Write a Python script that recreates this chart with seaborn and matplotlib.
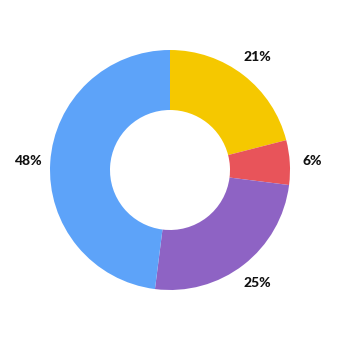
import matplotlib
matplotlib.use("Agg")
import matplotlib.pyplot as plt
import seaborn as sns

categories = ["A", "B", "C", "D"]
values = [21, 6, 25, 48]
colors = ["#F5C800", "#E8545A", "#8E63C4", "#5DA3F9"]

sns.set_theme(style="white")
plt.rcParams['font.family'] = ['Lato', 'DejaVu Sans']

fig = plt.figure(figsize=(3.4, 3.4), dpi=100)
ax = fig.add_axes([0, 0, 1, 1])
wedges, texts, autotexts = ax.pie(
    values, colors=colors, startangle=90, counterclock=False,
    radius=1.0, wedgeprops=dict(width=0.5, linewidth=0),
    autopct=lambda p: f"{p:.0f}%", pctdistance=1.19,
)
for t in autotexts:
    t.set_fontsize(10)
    t.set_fontweight(900)
    t.set_color("#111111")
r = 170 / 120
ax.set_xlim(-r, r)
ax.set_ylim(-r, r)
ax.set_aspect("equal")
ax.axis("off")
fig.savefig("out.png", dpi=100)
